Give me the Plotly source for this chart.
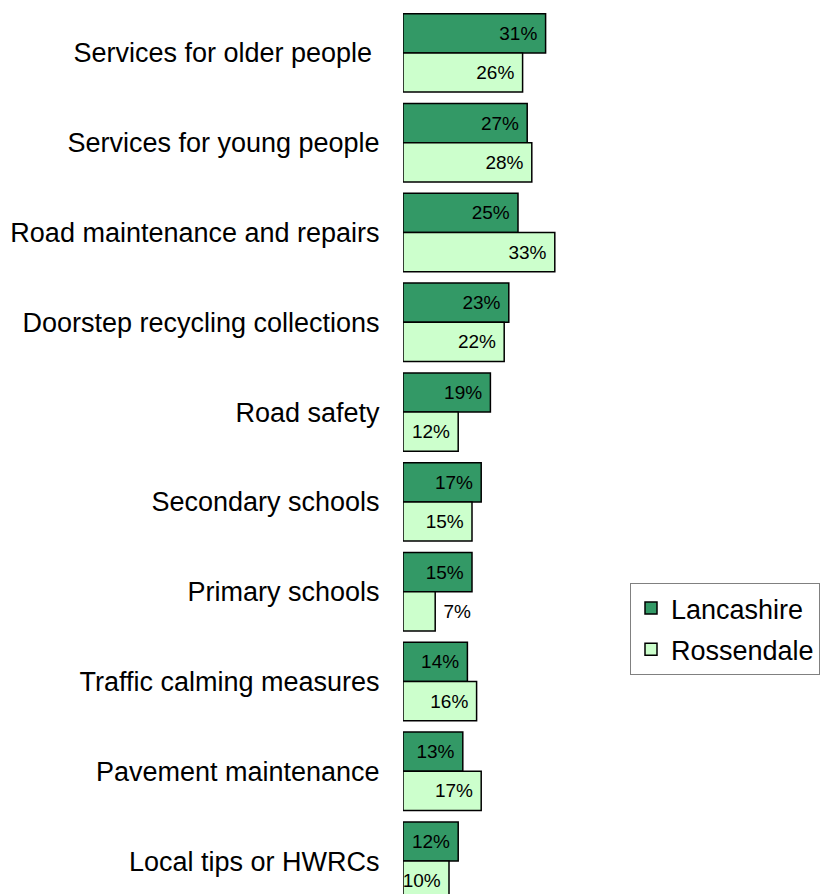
import plotly.graph_objects as go

# Survey categories, listed top to bottom
categories = [
    "Services for older people\u00a0",
    "Services for young people",
    "Road maintenance and repairs",
    "Doorstep recycling collections",
    "Road safety",
    "Secondary schools",
    "Primary schools",
    "Traffic calming measures",
    "Pavement maintenance",
    "Local tips or HWRCs",
]

lancashire = [31, 27, 25, 23, 19, 17, 15, 14, 13, 12]
rossendale = [26, 28, 33, 22, 12, 15, 7, 16, 17, 10]

DARK = "#339966"
LIGHT = "#CCFFCC"
FONT = "Liberation Sans, Arial, sans-serif"
NBSP = "\u00a0"


def text_positions(values, min_inside=10):
    return ["inside" if v >= min_inside else "outside" for v in values]


def labels(values, min_inside=10):
    # inside labels keep a little room from the bar end; outside ones from the bar
    return [f"{v}%{NBSP}" if v >= min_inside else f"{NBSP}{v}%" for v in values]


def bar(name, values, color, group):
    return go.Bar(
        name=name, y=categories, x=values, orientation="h",
        legendgroup=group,
        marker=dict(color=color, line=dict(color="#000000", width=1.5)),
        text=labels(values),
        textposition=text_positions(values),
        insidetextanchor="end",
        textfont=dict(color="#000000", size=19, family=FONT),
        constraintext="none",
        cliponaxis=False,
    )


fig = go.Figure()
fig.add_trace(bar("Lancashire", lancashire, DARK, "a"))
fig.add_trace(bar("Rossendale", rossendale, LIGHT, "b"))

plot_h = 894 - 8
pitch = 89.8
fig.update_layout(
    width=823, height=894,
    margin=dict(l=403, r=0, t=8, b=0, pad=0),
    paper_bgcolor="white", plot_bgcolor="white",
    barmode="group", bargap=0.127, bargroupgap=0,
    font=dict(family=FONT, color="#000000"),
    showlegend=True,
    legend=dict(
        x=(630 - 403) / 420, y=1 - (583 - 8) / plot_h,
        xanchor="left", yanchor="top",
        bordercolor="#808080", borderwidth=1, bgcolor="white",
        font=dict(size=27, family=FONT, color="#000000"),
        itemwidth=30, tracegroupgap=3,
    ),
    xaxis=dict(range=[0, 420 / 4.6], showgrid=False, zeroline=False,
               showline=False, showticklabels=False, ticks=""),
    yaxis=dict(type="category", categoryorder="array", categoryarray=categories,
               range=[-0.5 + plot_h / pitch, -0.5],
               showgrid=False, zeroline=False, showline=False,
               ticks="outside", ticklen=17, tickcolor="rgba(0,0,0,0)",
               tickfont=dict(size=27, family=FONT, color="#000000")),
)

fig.write_html("out.html")
